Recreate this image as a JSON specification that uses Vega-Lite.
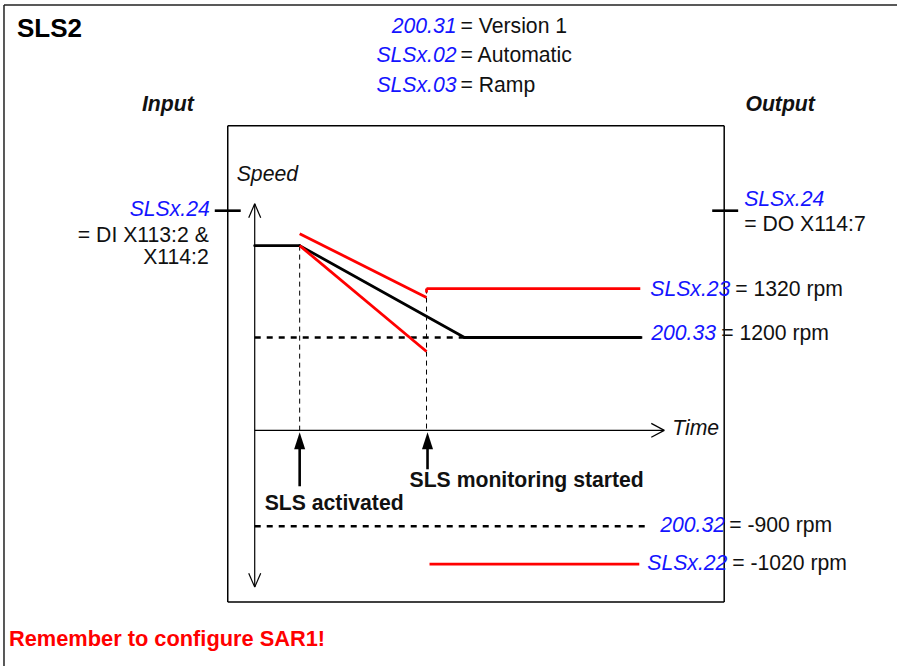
{
  "$schema": "https://vega.github.io/schema/vega-lite/v6.json",
  "width": 898,
  "height": 667,
  "autosize": {"type": "fit", "contains": "padding"},
  "padding": 0,
  "background": "white",
  "config": {"view": {"stroke": null}},
  "datasets": {
    "segments": [
      {"kind": "frame", "x": 4, "y": 5, "x2": 898, "y2": 5},
      {"kind": "frame", "x": 4, "y": 5, "x2": 4, "y2": 667},
      {"kind": "box", "x": 228, "y": 126, "x2": 725, "y2": 126},
      {"kind": "box", "x": 725, "y": 126, "x2": 725, "y2": 603},
      {"kind": "box", "x": 228, "y": 603, "x2": 725, "y2": 603},
      {"kind": "box", "x": 228, "y": 126, "x2": 228, "y2": 603},
      {"kind": "axis", "x": 255, "y": 204, "x2": 255, "y2": 588},
      {"kind": "axis", "x": 249, "y": 218, "x2": 255, "y2": 204},
      {"kind": "axis", "x": 255, "y": 204, "x2": 261, "y2": 218},
      {"kind": "axis", "x": 249, "y": 574, "x2": 255, "y2": 588},
      {"kind": "axis", "x": 255, "y": 588, "x2": 261, "y2": 574},
      {"kind": "axis", "x": 255, "y": 431, "x2": 665, "y2": 431},
      {"kind": "axis", "x": 652, "y": 424, "x2": 665, "y2": 431},
      {"kind": "axis", "x": 665, "y": 431, "x2": 652, "y2": 438},
      {"kind": "guide", "x": 300, "y": 246, "x2": 300, "y2": 431},
      {"kind": "guide", "x": 427, "y": 289, "x2": 427, "y2": 431},
      {"kind": "level", "x": 255, "y": 338, "x2": 643, "y2": 338},
      {"kind": "level", "x": 255, "y": 527, "x2": 648, "y2": 527},
      {"kind": "profile", "x": 255, "y": 246, "x2": 300, "y2": 246},
      {"kind": "profile", "x": 300, "y": 246, "x2": 465, "y2": 338},
      {"kind": "profile", "x": 465, "y": 338, "x2": 641, "y2": 338},
      {"kind": "limit", "x": 300, "y": 234, "x2": 427, "y2": 298},
      {"kind": "limit", "x": 300, "y": 246, "x2": 427, "y2": 352},
      {"kind": "limit", "x": 427, "y": 289, "x2": 641, "y2": 289},
      {"kind": "limit", "x": 427, "y": 289, "x2": 427, "y2": 293},
      {"kind": "limit", "x": 430, "y": 565, "x2": 640, "y2": 565},
      {"kind": "marker", "x": 215, "y": 211, "x2": 241, "y2": 211},
      {"kind": "marker", "x": 713, "y": 211, "x2": 739, "y2": 211},
      {"kind": "marker", "x": 300, "y": 487, "x2": 300, "y2": 447},
      {"kind": "marker", "x": 428, "y": 470, "x2": 428, "y2": 447}
    ],
    "heads": [
      {"x": 300, "y": 441.5},
      {"x": 428, "y": 441.5}
    ],
    "labels": [
      {"style": "title", "x": 17, "y": 37, "text": "SLS2"},
      {"style": "blueR", "x": 457, "y": 33, "text": "200.31"},
      {"style": "blueR", "x": 457, "y": 62, "text": "SLSx.02"},
      {"style": "blueR", "x": 457, "y": 92, "text": "SLSx.03"},
      {"style": "blackL", "x": 461, "y": 33, "text": "= Version 1"},
      {"style": "blackL", "x": 461, "y": 62, "text": "= Automatic"},
      {"style": "blackL", "x": 461, "y": 92, "text": "= Ramp"},
      {"style": "boldItalicC", "x": 168, "y": 111, "text": "Input"},
      {"style": "boldItalicC", "x": 781, "y": 111, "text": "Output"},
      {"style": "blueR", "x": 210, "y": 216, "text": "SLSx.24"},
      {"style": "blackR", "x": 209, "y": 242, "text": "= DI X113:2 &"},
      {"style": "blackR", "x": 209, "y": 264, "text": "X114:2"},
      {"style": "blueL", "x": 745, "y": 206, "text": "SLSx.24"},
      {"style": "blackL", "x": 745, "y": 231, "text": "= DO X114:7"},
      {"style": "italicL", "x": 237, "y": 181, "text": "Speed"},
      {"style": "italicL", "x": 673, "y": 436, "text": "Time"},
      {"style": "blueL", "x": 651, "y": 296, "text": "SLSx.23"},
      {"style": "blackL", "x": 736, "y": 296, "text": "= 1320 rpm"},
      {"style": "blueL", "x": 652, "y": 341, "text": "200.33"},
      {"style": "blackL", "x": 722, "y": 341, "text": "= 1200 rpm"},
      {"style": "blueL", "x": 661, "y": 533, "text": "200.32"},
      {"style": "blackL", "x": 730, "y": 533, "text": "= -900 rpm"},
      {"style": "blueL", "x": 648, "y": 571, "text": "SLSx.22"},
      {"style": "blackL", "x": 733, "y": 571, "text": "= -1020 rpm"},
      {"style": "boldL", "x": 265, "y": 511, "text": "SLS activated"},
      {"style": "boldL", "x": 410, "y": 488, "text": "SLS monitoring started"},
      {"style": "warn", "x": 9, "y": 647, "text": "Remember to configure SAR1!"}
    ]
  },
  "encoding": {
    "x": {"field": "x", "type": "quantitative", "scale": {"domain": [0, 898], "nice": false, "zero": false}, "axis": null},
    "y": {"field": "y", "type": "quantitative", "scale": {"domain": [0, 667], "reverse": true, "nice": false, "zero": false}, "axis": null}
  },
  "layer": [
    {"data": {"name": "segments"}, "transform": [{"filter": "datum.kind === 'frame'"}], "mark": {"type": "rule", "color": "#222222", "strokeWidth": 1.5}, "encoding": {"x2": {"field": "x2"}, "y2": {"field": "y2"}}},
    {"data": {"name": "segments"}, "transform": [{"filter": "datum.kind === 'box'"}], "mark": {"type": "rule", "color": "#000000", "strokeWidth": 1.5}, "encoding": {"x2": {"field": "x2"}, "y2": {"field": "y2"}}},
    {"data": {"name": "segments"}, "transform": [{"filter": "datum.kind === 'axis'"}], "mark": {"type": "rule", "color": "#000000", "strokeWidth": 1.2}, "encoding": {"x2": {"field": "x2"}, "y2": {"field": "y2"}}},
    {"data": {"name": "segments"}, "transform": [{"filter": "datum.kind === 'guide'"}], "mark": {"type": "rule", "color": "#000000", "strokeWidth": 1, "strokeDash": [5, 4]}, "encoding": {"x2": {"field": "x2"}, "y2": {"field": "y2"}}},
    {"data": {"name": "segments"}, "transform": [{"filter": "datum.kind === 'level'"}], "mark": {"type": "rule", "color": "#000000", "strokeWidth": 2.5, "strokeDash": [6, 6]}, "encoding": {"x2": {"field": "x2"}, "y2": {"field": "y2"}}},
    {"data": {"name": "segments"}, "transform": [{"filter": "datum.kind === 'profile'"}], "mark": {"type": "rule", "color": "#000000", "strokeWidth": 2.8, "strokeCap": "round"}, "encoding": {"x2": {"field": "x2"}, "y2": {"field": "y2"}}},
    {"data": {"name": "segments"}, "transform": [{"filter": "datum.kind === 'limit'"}], "mark": {"type": "rule", "color": "#ff0000", "strokeWidth": 2.8}, "encoding": {"x2": {"field": "x2"}, "y2": {"field": "y2"}}},
    {"data": {"name": "segments"}, "transform": [{"filter": "datum.kind === 'marker'"}], "mark": {"type": "rule", "color": "#000000", "strokeWidth": 2.6}, "encoding": {"x2": {"field": "x2"}, "y2": {"field": "y2"}}},
    {"data": {"name": "heads"}, "mark": {"type": "point", "shape": "M0,-1L0.65,1L-0.65,1Z", "size": 289, "filled": true, "color": "#000000", "opacity": 1}},
    {"data": {"name": "labels"}, "transform": [{"filter": "datum.style === 'title'"}], "mark": {"type": "text", "font": "Liberation Sans", "fontSize": 26, "fontWeight": "bold", "align": "left", "baseline": "alphabetic", "color": "#000000"}, "encoding": {"text": {"field": "text"}}},
    {"data": {"name": "labels"}, "transform": [{"filter": "datum.style === 'blueR'"}], "mark": {"type": "text", "font": "Liberation Sans", "fontSize": 21.2, "fontStyle": "italic", "align": "right", "baseline": "alphabetic", "color": "#1414ff"}, "encoding": {"text": {"field": "text"}}},
    {"data": {"name": "labels"}, "transform": [{"filter": "datum.style === 'blueL'"}], "mark": {"type": "text", "font": "Liberation Sans", "fontSize": 21.2, "fontStyle": "italic", "align": "left", "baseline": "alphabetic", "color": "#1414ff"}, "encoding": {"text": {"field": "text"}}},
    {"data": {"name": "labels"}, "transform": [{"filter": "datum.style === 'blackL'"}], "mark": {"type": "text", "font": "Liberation Sans", "fontSize": 21.2, "align": "left", "baseline": "alphabetic", "color": "#111111"}, "encoding": {"text": {"field": "text"}}},
    {"data": {"name": "labels"}, "transform": [{"filter": "datum.style === 'blackR'"}], "mark": {"type": "text", "font": "Liberation Sans", "fontSize": 21.2, "align": "right", "baseline": "alphabetic", "color": "#111111"}, "encoding": {"text": {"field": "text"}}},
    {"data": {"name": "labels"}, "transform": [{"filter": "datum.style === 'italicL'"}], "mark": {"type": "text", "font": "Liberation Sans", "fontSize": 21.2, "fontStyle": "italic", "align": "left", "baseline": "alphabetic", "color": "#111111"}, "encoding": {"text": {"field": "text"}}},
    {"data": {"name": "labels"}, "transform": [{"filter": "datum.style === 'boldItalicC'"}], "mark": {"type": "text", "font": "Liberation Sans", "fontSize": 21.2, "fontStyle": "italic", "fontWeight": "bold", "align": "center", "baseline": "alphabetic", "color": "#111111"}, "encoding": {"text": {"field": "text"}}},
    {"data": {"name": "labels"}, "transform": [{"filter": "datum.style === 'boldL'"}], "mark": {"type": "text", "font": "Liberation Sans", "fontSize": 21.2, "fontWeight": "bold", "align": "left", "baseline": "alphabetic", "color": "#111111"}, "encoding": {"text": {"field": "text"}}},
    {"data": {"name": "labels"}, "transform": [{"filter": "datum.style === 'warn'"}], "mark": {"type": "text", "font": "Liberation Sans", "fontSize": 21.8, "fontWeight": "bold", "align": "left", "baseline": "alphabetic", "color": "#ff0000"}, "encoding": {"text": {"field": "text"}}}
  ]
}
